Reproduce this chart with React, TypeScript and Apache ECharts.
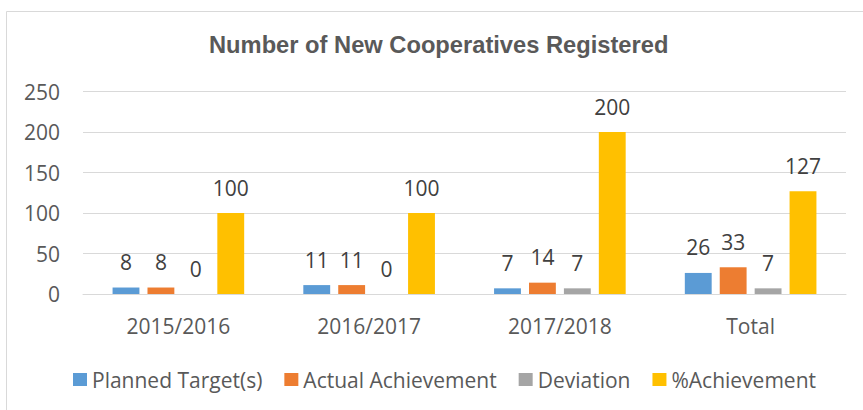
import React, { useEffect, useRef } from "react";
import * as echarts from "echarts";

const categories = ["2015/2016", "2016/2017", "2017/2018", "Total"];
const plannedTarget = [8, 11, 7, 26];
const actualAchievement = [8, 11, 14, 33];
const deviation = [0, 0, 7, 7];
const pctAchievement = [100, 100, 200, 127];
const seriesNames = ["Planned Target(s)", "Actual Achievement", "Deviation", "%Achievement"];
const colors = ["#5B9BD5", "#ED7D31", "#A5A5A5", "#FFC000"];
const yTicks = { min: 0, max: 250, interval: 50 };

const FONT = "'Open Sans', sans-serif";
const FS = 21;

export default function App() {
  const ref = useRef<HTMLDivElement>(null);
  useEffect(() => {
    if (!ref.current) return;
    const chart = echarts.init(ref.current, null, { renderer: "svg" });
    const data = [plannedTarget, actualAchievement, deviation, pctAchievement];
    chart.setOption({
      animation: false,
      backgroundColor: "#ffffff",
      title: {
        text: "Number of New Cooperatives Registered",
        left: 209,
        top: 33,
        padding: 0,
        textStyle: {
          fontFamily: "'Liberation Sans', Arial, sans-serif",
          fontWeight: "bold",
          fontSize: 23.7,
          color: "#595959",
        },
      },
      graphic: [
        {
          type: "rect",
          shape: { x: 6.5, y: 11.5, width: 900, height: 500 },
          style: { fill: "none", stroke: "#d9d9d9", lineWidth: 1 },
          silent: true,
        },
      ],
      legend: {
        left: 73,
        top: 369,
        padding: 0,
        itemWidth: 14,
        itemHeight: 13,
        itemGap: 22,
        icon: "rect",
        textStyle: { fontFamily: FONT, fontSize: FS, color: "#595959", lineHeight: 20 },
        data: seriesNames,
      },
      grid: { left: 83, right: 17, top: 91.5, bottom: 116, containLabel: false },
      xAxis: {
        type: "category",
        data: categories,
        axisLine: { lineStyle: { color: "#d9d9d9", width: 1 } },
        axisTick: { show: false },
        axisLabel: { fontFamily: FONT, fontSize: FS, color: "#595959", margin: 21 },
      },
      yAxis: {
        type: "value",
        min: yTicks.min,
        max: yTicks.max,
        interval: yTicks.interval,
        axisLine: { show: false },
        axisTick: { show: false },
        splitLine: { lineStyle: { color: "#d9d9d9", width: 1 } },
        axisLabel: { fontFamily: FONT, fontSize: FS, color: "#595959", margin: 23 },
      },
      series: seriesNames.map((name, i) => ({
        name,
        type: "bar",
        data: data[i],
        barGap: "30%",
        barCategoryGap: "31%",
        itemStyle: { color: colors[i] },
        label: {
          show: true,
          position: "top",
          distance: 15,
          fontFamily: FONT,
          fontSize: FS,
          color: "#404040",
        },
      })),
    });
    return () => chart.dispose();
  }, []);
  return (
    <div
      ref={ref}
      style={{ position: "fixed", left: 0, top: 0, width: 863, height: 410 }}
    />
  );
}
